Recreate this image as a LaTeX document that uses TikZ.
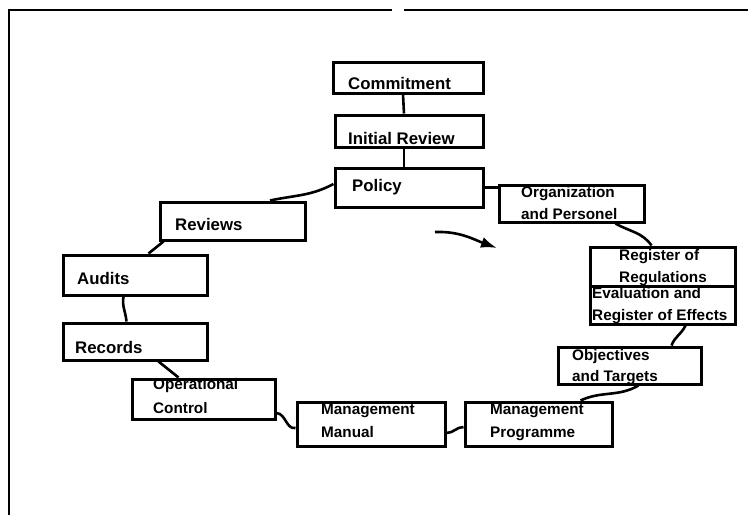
\documentclass[tikz,border=0pt]{standalone}
\usepackage{fontspec}
\setmainfont{Liberation Sans}
\usetikzlibrary{arrows.meta}
% rectangle node given by its name and its corners (left, top, right, bottom)
\newcommand{\cyclebox}[5]{%
  \node[box,minimum width={#4-#2},minimum height={#5-#3}] (#1) at ({(#2+#4)/2},{(#3+#5)/2}) {};}
\begin{document}
\begin{tikzpicture}[x=1pt,y=-1pt,
  box/.style={draw,line width=3pt,inner sep=0pt,fill=white},
  lbl/.style={anchor=base west,inner sep=0pt,align=left,
    font=\bfseries\fontsize{15.3}{#1}\selectfont},
  lbl/.default=22,
  single/.style={anchor=base west,inner sep=0pt,
    font=\bfseries\fontsize{16.8}{20}\selectfont},
  link/.style={line width=2.6pt},
  frame/.style={line width=2.8pt}]
\useasboundingbox (0,0) rectangle (748,515);

% outer frame (open on the right and bottom)
\draw[frame] (9,515) -- (9,10) -- (392,10);
\draw[frame] (404,10) -- (748,10);

% boxes
\cyclebox{commit}{333}{62}{483}{93}
\cyclebox{initrev}{335}{115}{483}{147}
\cyclebox{policy}{335}{168}{483}{207}
\cyclebox{org}{499}{185}{644}{222}
\cyclebox{reg}{590}{247}{735}{324}
\cyclebox{obj}{558}{347}{701}{384}
\cyclebox{prog}{465}{402}{612}{446}
\cyclebox{manual}{297}{402}{445}{446}
\cyclebox{opctl}{132}{379}{275}{419}
\cyclebox{records}{63}{323}{207}{360}
\cyclebox{audits}{63}{255}{207}{295}
\cyclebox{reviews}{160}{202}{305}{240}
\draw[line width=3pt] ([yshift=-0.5pt]reg.west) -- ([yshift=-0.5pt]reg.east);

% connectors
\draw[link] ([xshift=-5pt]commit.south) -- ([xshift=-5pt]initrev.north);
\draw[link] ([xshift=-5pt]initrev.south) -- ([xshift=-5pt]policy.north);
\draw[link] (policy.east) -- (policy.east -| org.west);
\draw[link] ([xshift=118pt]org.south west) to[out=-30,in=125] ([xshift=63pt]reg.north west);
\draw[link] ([xshift=97pt]reg.south west) to[out=-115,in=70] ([xshift=115pt]obj.north west);
\draw[link] ([xshift=82pt]obj.south west) to[out=-150,in=25] ([xshift=117pt]prog.north west);
\draw[link] ([yshift=-9pt]manual.east) to[out=0,in=180] ([yshift=-3pt]prog.west);
\draw[link] ([yshift=-14pt]opctl.east) to[out=-5,in=190] ([yshift=-4pt]manual.west);
\draw[link] ([xshift=97pt]records.south west) -- ([xshift=48pt]opctl.north west);
\draw[link] ([xshift=62pt]audits.south west) to[out=-100,in=95] ([xshift=65pt]records.north west);
\draw[link] ([xshift=5pt]reviews.south west) -- ([xshift=87pt]audits.north west);
\draw[link] ([yshift=3.5pt]policy.west) to[out=208,in=12] ([xshift=37.5pt]reviews.north);

% direction of the cycle
\coordinate (turn-a) at (435,232);
\coordinate (turn-b) at (497,248);
\draw[link,-{Latex[length=16pt,width=11pt]}] (turn-a) to[out=2,in=160] (turn-b);

% labels (multi-line ones are placed by the baseline of their last line)
\node[single] (commit-t) at (348,89) {Commitment};
\node[single] (initrev-t) at (348,144) {Initial Review};
\node[single] (policy-t) at (352,191) {Policy};
\node[lbl] (org-t) at (521,219) {Organization\\and Personel};
\node[lbl] (reg-t1) at (619,282) {Register of\\Regulations};
\node[lbl] (reg-t2) at (592,320) {Evaluation and\\Register of Effects};
\node[lbl=21] (obj-t) at (572,381) {Objectives\\and Targets};
\node[lbl=23] (prog-t) at (490,437) {Management\\Programme};
\node[lbl=23] (manual-t) at (321,437) {Management\\Manual};
\node[lbl=24] (opctl-t) at (153,413) {Operational\\Control};
\node[single] (records-t) at (75,353) {Records};
\node[single] (audits-t) at (77,284) {Audits};
\node[single] (reviews-t) at (175,230) {Reviews};
\end{tikzpicture}
\end{document}
